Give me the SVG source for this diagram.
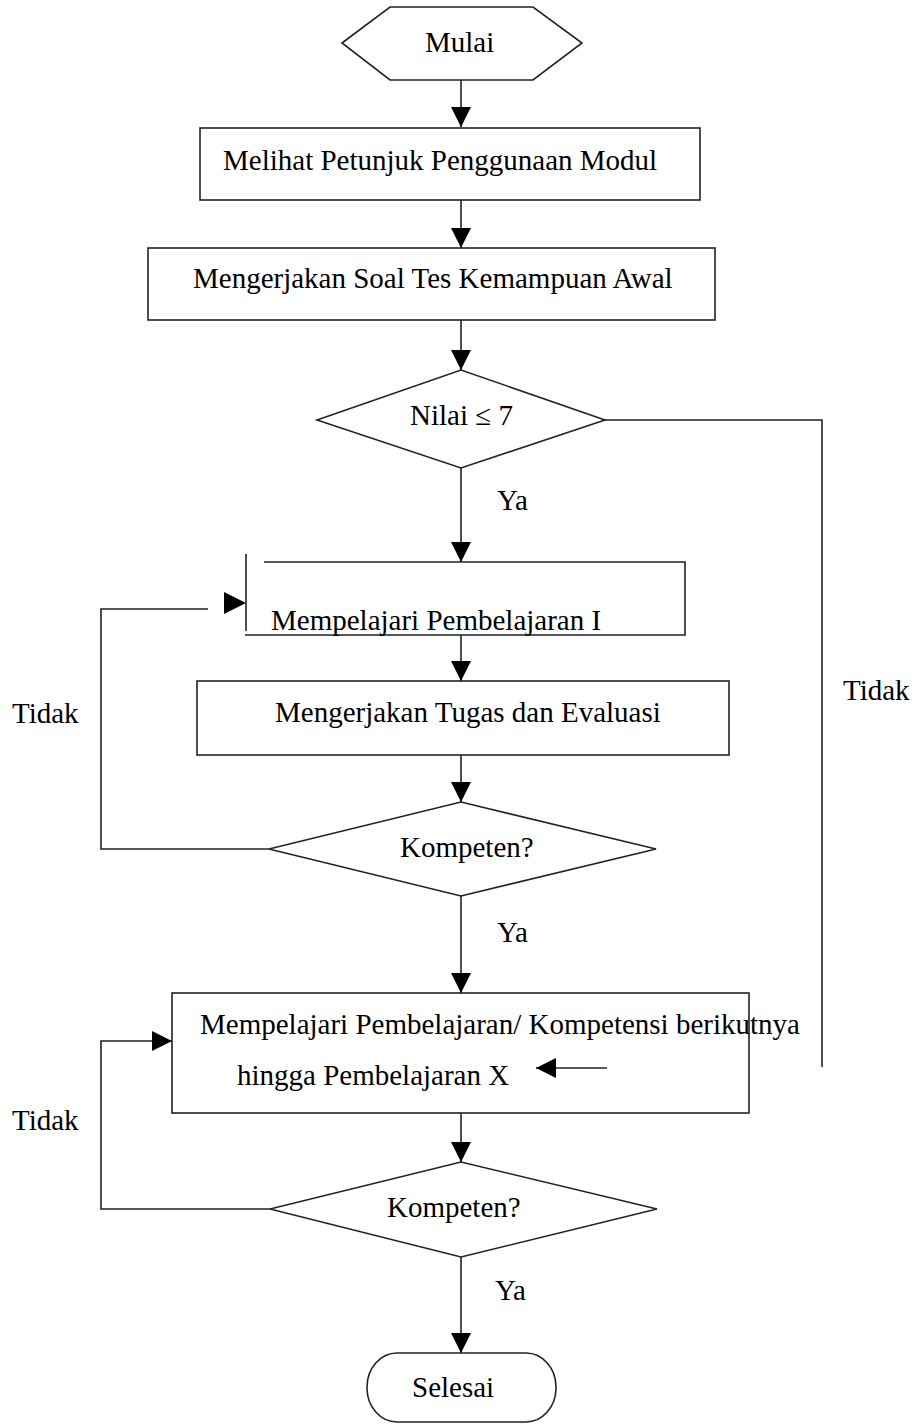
<svg xmlns="http://www.w3.org/2000/svg" width="914" height="1425" viewBox="0 0 914 1425">
<style>
.s{fill:#fff;stroke:#222;stroke-width:1.6}
.l{fill:none;stroke:#222;stroke-width:1.6}
.h{fill:#000;stroke:none}
text{font-family:"Liberation Serif","Times New Roman",serif;font-size:29px;fill:#000}
</style>
<defs>
<marker id="a" markerUnits="userSpaceOnUse" markerWidth="22" markerHeight="22" refX="20" refY="10" orient="auto">
<path d="M0,0 L20,10 L0,20 Z" fill="#000"/>
</marker>
</defs>
<rect width="914" height="1425" fill="#fff"/>
<g id="connectors">
<line class="l" x1="461" y1="80" x2="461" y2="127" marker-end="url(#a)"/>
<line class="l" x1="461" y1="200" x2="461" y2="248" marker-end="url(#a)"/>
<line class="l" x1="461" y1="320" x2="461" y2="370" marker-end="url(#a)"/>
<line class="l" x1="461" y1="468" x2="461" y2="562" marker-end="url(#a)"/>
<line class="l" x1="461" y1="635" x2="461" y2="681" marker-end="url(#a)"/>
<line class="l" x1="461" y1="755" x2="461" y2="802" marker-end="url(#a)"/>
<line class="l" x1="461" y1="896" x2="461" y2="993" marker-end="url(#a)"/>
<line class="l" x1="461" y1="1113" x2="461" y2="1162" marker-end="url(#a)"/>
<line class="l" x1="461" y1="1257" x2="461" y2="1353" marker-end="url(#a)"/>
<polyline class="l" points="605,420 822,420 822,1067"/>
<line class="l" x1="607" y1="1068" x2="536" y2="1068" marker-end="url(#a)"/>
<polyline class="l" points="269,849 101,849 101,609 208,609"/>
<polygon class="h" points="224,592 246,603 224,614"/>
<polyline class="l" points="270,1209 101,1209 101,1041 172,1041" marker-end="url(#a)"/>
<text x="497" y="510">Ya</text>
<text x="497" y="942">Ya</text>
<text x="495" y="1300">Ya</text>
<text x="12" y="723">Tidak</text>
<text x="12" y="1130">Tidak</text>
<text x="843" y="700">Tidak</text>
</g>
<g id="start">
<polygon class="s" points="342,43 390,7 533,7 582,43 533,80 390,80"/>
<text x="425" y="52">Mulai</text>
</g>
<g id="petunjuk">
<rect class="s" x="200" y="128" width="500" height="72"/>
<text x="223" y="170">Melihat Petunjuk Penggunaan Modul</text>
</g>
<g id="tes-awal">
<rect class="s" x="148" y="248" width="567" height="72"/>
<text x="193" y="288">Mengerjakan Soal Tes Kemampuan Awal</text>
</g>
<g id="nilai">
<polygon class="s" points="317,420 461,370 605,420 461,468"/>
<text x="410" y="425">Nilai ≤ 7</text>
</g>
<g id="pembelajaran-1">
<polyline class="l" points="264,562 685,562 685,635 245,635"/>
<line class="l" x1="246" y1="554" x2="246" y2="631"/>
<text x="271" y="630">Mempelajari Pembelajaran I</text>
</g>
<g id="tugas">
<rect class="s" x="197" y="681" width="532" height="74"/>
<text x="275" y="722">Mengerjakan Tugas dan Evaluasi</text>
</g>
<g id="kompeten-1">
<polygon class="s" points="269,849 461,802 656,849 461,896"/>
<text x="400" y="857">Kompeten?</text>
</g>
<g id="pembelajaran-x">
<rect class="l" x="172" y="993" width="577" height="120"/>
<text x="200" y="1034">Mempelajari Pembelajaran/ Kompetensi berikutnya</text>
<text x="237" y="1085">hingga Pembelajaran X</text>
</g>
<g id="kompeten-2">
<polygon class="s" points="270,1209 461,1162 657,1209 461,1257"/>
<text x="387" y="1217">Kompeten?</text>
</g>
<g id="selesai">
<rect class="s" x="367" y="1353" width="189" height="69" rx="30" ry="34"/>
<text x="412" y="1397">Selesai</text>
</g>
</svg>
